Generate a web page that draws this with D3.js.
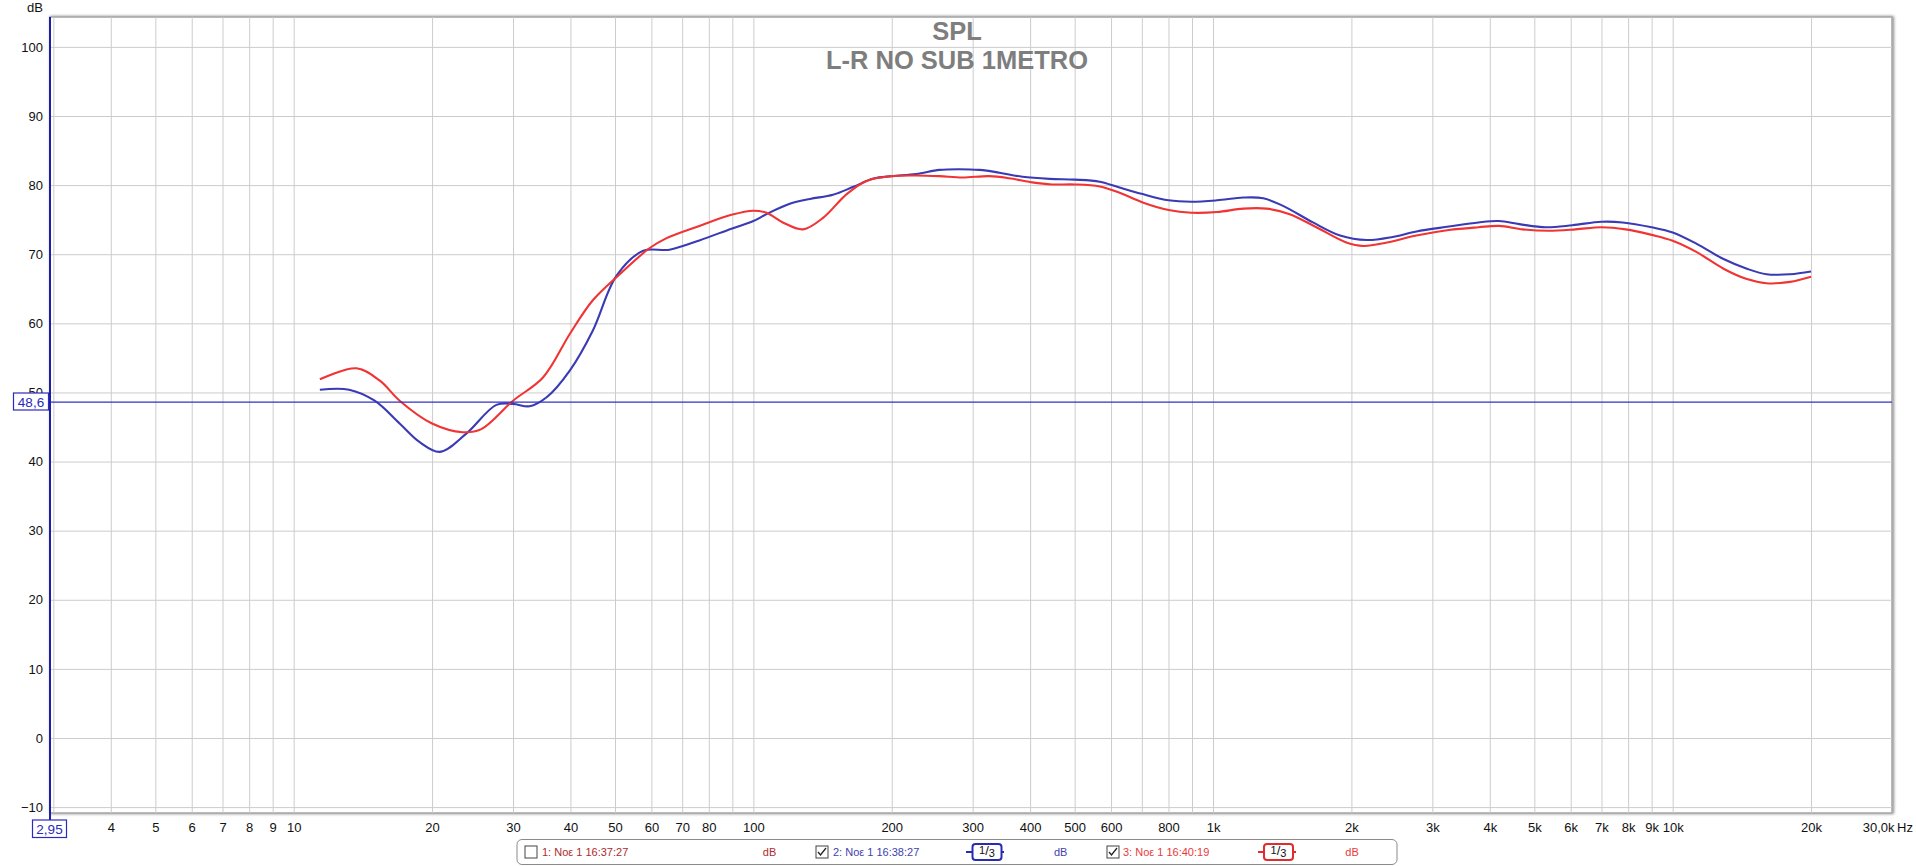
<!DOCTYPE html>
<html><head><meta charset="utf-8">
<script src="https://cdn.jsdelivr.net/npm/d3@7"></script>
<style>
body{margin:0;background:#fff;}
svg{display:block;font-family:"Liberation Sans",Arial,sans-serif;}
</style>
</head><body>
<svg id="c" width="1916" height="866"></svg>
<script>
// ---- data ----
const blueFreq = [11.4,13.2,15.0,17.0,18.8,20.8,23.7,27.6,30.0,32.6,35.5,39.9,44.7,50.4,57.6,65.7,76.3,89.6,100,106.8,120,132.8,149,165,182.5,200,226,254,280,310,343,385,441,500,567,626,703,800,898,1020,1164,1286,1420,1650,1890,2160,2460,2770,3260,3780,4190,4640,5300,6050,7000,7780,9000,10000,11280,12900,14500,16000,18000,20000];
const blueDb   = [50.4,50.4,48.8,45.5,42.8,41.4,44.0,48.2,48.35,48.0,49.3,53.2,58.9,66.9,70.5,70.65,72.0,73.7,74.8,75.8,77.3,78.0,78.6,79.75,80.95,81.3,81.6,82.2,82.3,82.2,81.8,81.2,80.9,80.8,80.5,79.65,78.7,77.8,77.6,77.8,78.2,78.1,77.0,74.6,72.7,72.05,72.5,73.3,74.0,74.6,74.8,74.35,73.9,74.2,74.7,74.6,73.9,73.15,71.5,69.3,67.9,67.1,67.1,67.5];
const redFreq  = [11.4,13.7,15.4,17.0,20.0,23.3,25.6,30.0,34.9,39.9,44.7,51.2,59.5,64.6,76.3,89.6,99.9,106.8,115.9,128.3,142,159.6,176.3,200,226,254,285,326,360,404,446,500,567,626,703,800,898,1020,1164,1307,1468,1678,1950,2125,2390,2770,3260,3780,4190,4720,5370,6150,7000,7900,9000,10000,11280,12900,14500,16000,18000,20000];
const redDb    = [51.9,53.5,51.7,48.8,45.5,44.25,44.7,48.8,52.2,58.5,63.3,67.1,70.9,72.3,74.1,75.7,76.3,76.0,74.6,73.6,75.3,78.7,80.6,81.3,81.4,81.3,81.1,81.3,81.0,80.4,80.1,80.1,79.8,78.9,77.5,76.4,76.0,76.1,76.6,76.6,75.8,73.9,71.7,71.2,71.7,72.7,73.5,73.9,74.1,73.6,73.4,73.6,73.9,73.6,72.8,71.95,70.3,67.9,66.4,65.8,66.0,66.75];

const gridFreqs = [3,4,5,6,7,8,9,10,20,30,40,50,60,70,80,90,100,200,300,400,500,600,700,800,900,1000,2000,3000,4000,5000,6000,7000,8000,9000,10000,20000];
const xTickValues = [4,5,6,7,8,9,10,20,30,40,50,60,70,80,100,200,300,400,500,600,800,1000,2000,3000,4000,5000,6000,7000,8000,9000,10000,20000,30000];
const xTickLabels = ["4","5","6","7","8","9","10","20","30","40","50","60","70","80","100","200","300","400","500","600","800","1k","2k","3k","4k","5k","6k","7k","8k","9k","10k","20k","30,0k"];
const yTickValues = [-10,0,10,20,30,40,50,60,70,80,90,100];
const titleLines = ["SPL","L-R NO SUB 1METRO"];
const legendLabels = ["1: Νοε 1 16:37:27","2: Νοε 1 16:38:27","3: Νοε 1 16:40:19"];
const cursorFreq = 2.95, cursorDb = 48.6;

// ---- layout ----
const L = 50, R = 1892, T = 17, B = 813;
const svg = d3.select("#c");
const x = d3.scaleLog().domain([2.95, 30000]).range([L, R]);
const y = d3.scaleLinear().domain([-10, 100]).range([807.1, 46.9]);

const defs = svg.append("defs");
const f = defs.append("filter").attr("id","sh").attr("x","-5%").attr("y","-5%").attr("width","110%").attr("height","110%");
f.append("feGaussianBlur").attr("in","SourceAlpha").attr("stdDeviation",1.6).attr("result","b");
f.append("feOffset").attr("in","b").attr("dx",1).attr("dy",0).attr("result","o");
f.append("feComponentTransfer").attr("in","o").attr("result","o2").append("feFuncA").attr("type","linear").attr("slope",0.5);
const fm = f.append("feMerge"); fm.append("feMergeNode").attr("in","o2"); fm.append("feMergeNode").attr("in","SourceGraphic");

svg.append("rect").attr("x",L).attr("y",T).attr("width",R-L).attr("height",B-T)
  .attr("fill","#fff").attr("stroke","#a8a8a8").attr("stroke-width",1.6).attr("filter","url(#sh)");

// grid
const gx = svg.append("g").attr("transform",`translate(0,${B})`)
  .call(d3.axisBottom(x).tickValues(gridFreqs).tickSize(-(B-T)).tickFormat(""));
gx.select(".domain").remove();
gx.selectAll("line").attr("stroke","#cccccc").attr("stroke-width",1);
const gy = svg.append("g").attr("transform",`translate(${L},0)`)
  .call(d3.axisLeft(y).tickValues(yTickValues).tickSize(-(R-L)).tickFormat(""));
gy.select(".domain").remove();
gy.selectAll("line").attr("stroke","#cccccc").attr("stroke-width",1);

// title
svg.append("g").selectAll("text").data(titleLines).join("text")
  .attr("x",957).attr("y",(d,i)=>40+i*28.5).attr("text-anchor","middle")
  .attr("font-size",25.5).attr("font-weight","bold").attr("fill","#7e7e7e").text(d=>d);

// curves
const line = d3.line().x(d=>x(d[0])).y(d=>y(d[1])).curve(d3.curveCatmullRom.alpha(0.5));
const blue = blueFreq.map((f,i)=>[f,blueDb[i]]);
const red = redFreq.map((f,i)=>[f,redDb[i]]);
svg.append("path").attr("d",line(blue)).attr("fill","none").attr("stroke","#3a3ab4").attr("stroke-width",2.1);
svg.append("path").attr("d",line(red)).attr("fill","none").attr("stroke","#f03434").attr("stroke-width",2.1);

// cursor lines
svg.append("line").attr("x1",L).attr("x2",R).attr("y1",y(cursorDb)).attr("y2",y(cursorDb))
  .attr("stroke","#3333c4").attr("stroke-width",1.3);
svg.append("line").attr("x1",x(cursorFreq)).attr("x2",x(cursorFreq)).attr("y1",T).attr("y2",821)
  .attr("stroke","#1d1da6").attr("stroke-width",2);

// axes labels
const ax = svg.append("g").attr("transform",`translate(0,${B})`)
  .call(d3.axisBottom(x).tickValues(xTickValues).tickFormat((d,i)=>xTickLabels[i]).tickSize(0).tickPadding(10));
ax.select(".domain").remove();
ax.selectAll("text").attr("font-size",13).attr("fill","#111").attr("font-family","Liberation Sans, Arial, sans-serif");
ax.selectAll(".tick").filter(d=>d===30000).select("text").attr("text-anchor","end").attr("dx",2);
svg.append("text").attr("x",1897).attr("y",832).attr("font-size",13).attr("fill","#111").text("Hz");

const ay = svg.append("g").attr("transform",`translate(${L},0)`)
  .call(d3.axisLeft(y).tickValues(yTickValues).tickSize(0).tickPadding(7));
ay.select(".domain").remove();
ay.selectAll("text").attr("font-size",13).attr("fill","#111").attr("font-family","Liberation Sans, Arial, sans-serif");
svg.append("text").attr("x",43).attr("y",12).attr("text-anchor","end").attr("font-size",13).attr("fill","#111").text("dB");

// cursor value boxes
svg.append("rect").attr("x",13.5).attr("y",393).attr("width",35).attr("height",17).attr("fill","#fff").attr("stroke","#2a2ac0").attr("stroke-width",1.2);
svg.append("text").attr("x",31).attr("y",406.5).attr("text-anchor","middle").attr("font-size",13.5).attr("fill","#2a2ac0").text(String(cursorDb).replace(".",","));
svg.append("rect").attr("x",32.5).attr("y",820).attr("width",34).attr("height",17.5).attr("fill","#fff").attr("stroke","#2a2ac0").attr("stroke-width",1.2);
svg.append("text").attr("x",49.5).attr("y",833.5).attr("text-anchor","middle").attr("font-size",13.5).attr("fill","#2a2ac0").text(String(cursorFreq).replace(".",","));

// legend
const lg = svg.append("g").attr("font-size",11);
lg.append("rect").attr("x",517).attr("y",839.5).attr("width",880).attr("height",25).attr("rx",5)
  .attr("fill","#fff").attr("stroke","#8a8a8a").attr("stroke-width",1);
const cy = 852;
const items = [
  {cb:531, checked:false, tx:542, col:"#b02a2a", db:769.6, frac:null},
  {cb:822, checked:true,  tx:833, col:"#4242b0", db:1060.7, frac:{l:966,r:1004,bx:972.5,bw:29}, fcol:"#2a2ab4"},
  {cb:1113,checked:true,  tx:1123,col:"#e83a3a", db:1352, frac:{l:1258,r:1296,bx:1264,bw:29}, fcol:"#e02c2c"}
];
items.forEach((it,i)=>{
  lg.append("rect").attr("x",it.cb-6).attr("y",cy-6).attr("width",12).attr("height",12).attr("fill","#fff").attr("stroke","#444").attr("stroke-width",1);
  if(it.checked){
    lg.append("path").attr("d",`M${it.cb-4},${cy} L${it.cb-1.5},${cy+3} L${it.cb+4},${cy-4}`).attr("fill","none").attr("stroke","#222").attr("stroke-width",1.3);
  }
  lg.append("text").attr("x",it.tx).attr("y",cy+4).attr("fill",it.col).text(legendLabels[i]);
  lg.append("text").attr("x",it.db).attr("y",cy+4).attr("text-anchor","middle").attr("fill",it.col).text("dB");
  if(it.frac){
    const fr = it.frac;
    lg.append("line").attr("x1",fr.l).attr("x2",fr.r).attr("y1",cy).attr("y2",cy).attr("stroke",it.fcol).attr("stroke-width",2);
    lg.append("rect").attr("x",fr.bx).attr("y",cy-8).attr("width",fr.bw).attr("height",16).attr("rx",3).attr("fill","#fff").attr("stroke",it.fcol).attr("stroke-width",2);
    const t = lg.append("text").attr("x",fr.bx+fr.bw/2).attr("y",cy+4).attr("text-anchor","middle").attr("fill","#111").attr("font-size",12);
    t.append("tspan").attr("dy",-2).attr("font-size",11).text("1");
    t.append("tspan").attr("dy",1).attr("font-size",13).attr("font-weight","300").text("/");
    t.append("tspan").attr("dy",2).attr("font-size",11).text("3");
  }
});
</script>
</body></html>
